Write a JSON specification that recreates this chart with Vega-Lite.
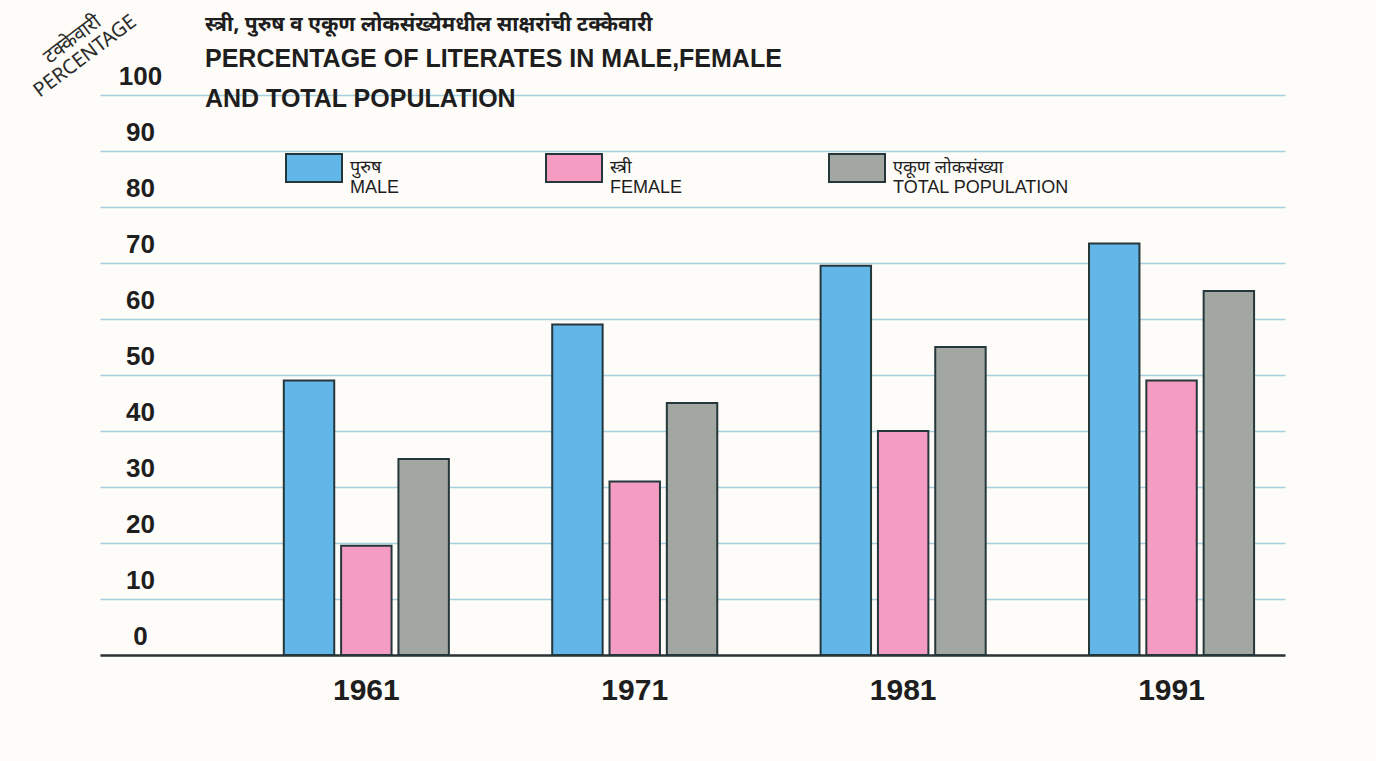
{
  "$schema": "https://vega.github.io/schema/vega-lite/v6.json",
  "autosize": "none",
  "width": 1185,
  "height": 560,
  "padding": {"left": 100, "top": 95, "right": 91, "bottom": 106},
  "background": "#fdfcf8",
  "title": {
    "text": "स्त्री, पुरुष व एकूण लोकसंख्येमधील साक्षरांची टक्केवारी",
    "subtitle": ["PERCENTAGE OF LITERATES IN MALE,FEMALE", "AND TOTAL POPULATION"],
    "anchor": "start",
    "frame": "group",
    "dx": 105,
    "offset": -118,
    "font": "Noto Sans Devanagari, Lohit Devanagari, FreeSans, Noto Sans, sans-serif",
    "fontSize": 21,
    "fontWeight": "bold",
    "color": "#1e1e1e",
    "subtitleFont": "Liberation Sans",
    "subtitleFontSize": 25,
    "subtitleFontWeight": "bold",
    "subtitleColor": "#1e1e1e",
    "subtitleLineHeight": 40,
    "subtitlePadding": 12
  },
  "data": {
    "values": [
      {"year": "1961", "group": "MALE", "value": 49},
      {"year": "1961", "group": "FEMALE", "value": 19.5},
      {"year": "1961", "group": "TOTAL POPULATION", "value": 35},
      {"year": "1971", "group": "MALE", "value": 59},
      {"year": "1971", "group": "FEMALE", "value": 31},
      {"year": "1971", "group": "TOTAL POPULATION", "value": 45},
      {"year": "1981", "group": "MALE", "value": 69.5},
      {"year": "1981", "group": "FEMALE", "value": 40},
      {"year": "1981", "group": "TOTAL POPULATION", "value": 55},
      {"year": "1991", "group": "MALE", "value": 73.5},
      {"year": "1991", "group": "FEMALE", "value": 49},
      {"year": "1991", "group": "TOTAL POPULATION", "value": 65}
    ]
  },
  "mark": {"type": "bar", "stroke": "#26373b", "strokeWidth": 2},
  "encoding": {
    "x": {
      "field": "year",
      "type": "nominal",
      "scale": {"paddingInner": 0.385, "paddingOuter": 0.4, "align": 0.856},
      "axis": {
        "title": null,
        "labelAngle": 0,
        "labelFont": "Liberation Sans",
        "labelFontSize": 30,
        "labelFontWeight": "bold",
        "labelColor": "#1e1e1e",
        "labelPadding": 20,
        "ticks": false,
        "domain": true,
        "domainColor": "#2e3336",
        "domainWidth": 2.5,
        "grid": false
      }
    },
    "xOffset": {
      "field": "group",
      "type": "nominal",
      "sort": ["MALE", "FEMALE", "TOTAL POPULATION"],
      "scale": {"paddingInner": 0.12, "paddingOuter": 0}
    },
    "y": {
      "field": "value",
      "type": "quantitative",
      "scale": {"domain": [0, 100], "nice": false},
      "axis": {
        "title": ["टक्केवारी", "PERCENTAGE"],
        "titleFont": "Noto Sans Devanagari, Lohit Devanagari, FreeSans, Liberation Sans, sans-serif",
        "titleFontSize": 20,
        "titleFontWeight": "normal",
        "titleColor": "#2a2a2a",
        "titleAngle": -37,
        "titleX": -28,
        "titleY": -56,
        "titleAlign": "center",
        "titleBaseline": "middle",
        "titleLineHeight": 21,
        "values": [0, 10, 20, 30, 40, 50, 60, 70, 80, 90, 100],
        "labelFont": "Liberation Sans",
        "labelFontSize": 26,
        "labelFontWeight": "bold",
        "labelColor": "#1e1e1e",
        "labelAlign": "center",
        "labelBaseline": "bottom",
        "labelPadding": -40,
        "labelOffset": -6,
        "tickSize": 0,
        "ticks": false,
        "domain": false,
        "grid": true,
        "gridColor": "#a5cede",
        "gridWidth": 1.5
      }
    },
    "color": {
      "field": "group",
      "type": "nominal",
      "sort": ["MALE", "FEMALE", "TOTAL POPULATION"],
      "scale": {
        "domain": ["MALE", "FEMALE", "TOTAL POPULATION"],
        "range": ["#62b6e8", "#f59cc2", "#a2a8a1"]
      },
      "legend": {
        "title": null,
        "orient": "none",
        "legendX": 185,
        "legendY": 44,
        "direction": "horizontal",
        "columns": 3,
        "columnPadding": 142,
        "symbolType": "M-1,-0.5H1V0.5H-1Z",
        "symbolSize": 3136,
        "symbolStrokeColor": "#26373b",
        "symbolStrokeWidth": 2,
        "symbolOpacity": 1,
        "labelOffset": 7,
        "labelFont": "Liberation Sans Narrow, Liberation Sans, Noto Sans Devanagari, FreeSans, sans-serif",
        "labelFontSize": 18,
        "labelColor": "#1e1e1e",
        "labelLimit": 300,
        "labelBaseline": "middle",
        "labelExpr": "datum.label == 'MALE' ? ['पुरुष', 'MALE'] : datum.label == 'FEMALE' ? ['स्त्री', 'FEMALE'] : ['एकूण लोकसंख्या', 'TOTAL POPULATION']"
      }
    }
  },
  "config": {
    "view": {"stroke": null},
    "bar": {"opacity": 1}
  }
}
